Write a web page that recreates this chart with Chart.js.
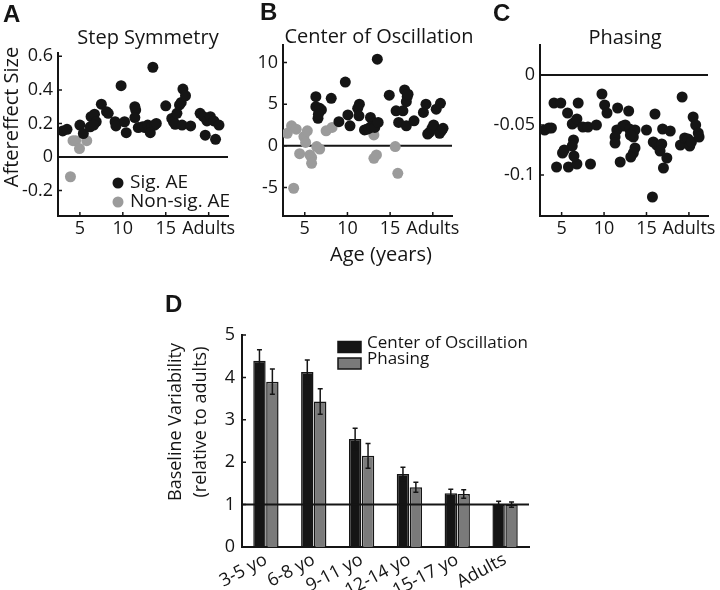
<!DOCTYPE html>
<html>
<head>
<meta charset="utf-8">
<script src="https://cdn.jsdelivr.net/npm/chart.js@4.4.1/dist/chart.umd.min.js"></script>
<style>
    body { margin: 0; background: #fff; }
    .figure { position: relative; width: 720px; height: 590px; }
    canvas { position: absolute; }
</style>
</head>
<body>
<div class="figure">
    <canvas id="stepChart" width="240" height="275" style="left:0px;top:0px"></canvas>
    <canvas id="centerChart" width="250" height="275" style="left:230px;top:0px"></canvas>
    <canvas id="phasingChart" width="250" height="275" style="left:470px;top:0px"></canvas>
    <canvas id="baselineChart" width="380" height="300" style="left:160px;top:290px"></canvas>
</div>
<script>
const ink = '#151515'
const grey = '#9b9b9b'
const barGrey = '#7a7a7a'

// shared age axis (A, B, C)
const ageTicks = [5, 10, 15, 20]
const ageTickLabels = ['5', '10', '15', 'Adults']
const ageMin = 2.45
const ageMax = 22.25

// A : step symmetry  [age, aftereffect]
const stepTicks = [-0.2, 0, 0.2, 0.4, 0.6]
const stepTickLabels = ['-0.2', '0', '0.2', '0.4', '0.6']
const stepSig = [
    [3.0, 0.155], [3.5, 0.165], [5.0, 0.19], [5.4, 0.14], [6.3, 0.24], [6.7, 0.255],
    [6.2, 0.18], [6.9, 0.21], [6.6, 0.19], [7.5, 0.315], [8.1, 0.27], [8.3, 0.26],
    [9.8, 0.425], [9.1, 0.21], [9.2, 0.185], [10.2, 0.21], [10.4, 0.145], [11.4, 0.3],
    [11.5, 0.28], [11.4, 0.235], [11.8, 0.175], [12.3, 0.18], [12.6, 0.175], [12.9, 0.19],
    [13.1, 0.16], [13.4, 0.185], [13.2, 0.145], [13.7, 0.19], [13.9, 0.2], [13.5, 0.535],
    [15.0, 0.305], [15.7, 0.23], [15.9, 0.21], [16.1, 0.195], [16.3, 0.26], [16.6, 0.31],
    [16.8, 0.325], [17.0, 0.405], [17.3, 0.365], [16.9, 0.19], [17.9, 0.185], [19.0, 0.26],
    [19.4, 0.24], [19.8, 0.215], [20.2, 0.24], [20.6, 0.215], [21.2, 0.19], [19.6, 0.13],
    [20.8, 0.105],
]
const stepNonSig = [[3.9, -0.118], [4.2, 0.097], [4.5, 0.097], [4.95, 0.05], [5.8, 0.097]]

// B : center of oscillation
const centerTicks = [-5, 0, 5, 10]
const centerTickLabels = ['-5', '0', '5', '10']
const centerSig = [
    [6.3, 5.9], [6.3, 4.7], [6.75, 4.5], [6.95, 4.3], [6.55, 3.3], [6.6, 3.8], [8.1, 5.7],
    [9.0, 2.9], [9.75, 7.65], [10.05, 3.7], [10.3, 2.4], [11.4, 5.0], [11.2, 4.5], [11.35, 3.6],
    [12.0, 1.9], [12.3, 2.0], [12.7, 3.4], [13.0, 2.7], [12.5, 2.1], [12.8, 2.3], [13.2, 2.2],
    [13.6, 2.8], [13.5, 10.4], [14.9, 6.07], [15.7, 4.2], [16.5, 4.2], [16.0, 2.8], [16.9, 2.4],
    [17.8, 3.0], [16.7, 6.7], [17.0, 5.9], [16.9, 5.3], [17.1, 6.2], [18.9, 4.0], [19.2, 5.0],
    [20.4, 4.4], [20.9, 5.1], [19.6, 1.6], [19.4, 1.4], [19.9, 2.1], [20.1, 2.5], [21.0, 1.8],
    [20.8, 1.5], [21.2, 2.1],
]
const centerNonSig = [
    [2.95, 1.5], [3.45, 2.4], [4.0, 2.0], [3.7, -5.1], [4.4, -0.95], [4.9, 1.1], [5.1, 0.4],
    [5.3, 1.8], [5.6, -1.1], [5.8, -1.4], [5.8, -2.1], [6.4, -0.1], [6.75, -0.4], [7.5, 1.8],
    [8.2, 2.2], [13.1, 1.3], [13.4, -1.1], [13.1, -1.5], [15.6, -0.1], [15.9, -3.3],
]

// C : phasing
const phasingTicks = [-0.1, -0.05, 0]
const phasingTickLabels = ['-0.1', '-0.05', '0']
const phasingSig = [
    [3.0, -0.055], [3.5, -0.053], [3.8, -0.053], [4.1, -0.028], [4.9, -0.028], [4.4, -0.092],
    [5.7, -0.038], [5.1, -0.078], [5.3, -0.075], [5.8, -0.092], [6.4, -0.065], [6.25, -0.071],
    [6.25, -0.049], [6.55, -0.047], [6.8, -0.044], [6.95, -0.028], [6.8, -0.089], [6.45, -0.081],
    [7.5, -0.052], [8.1, -0.052], [9.1, -0.05], [8.4, -0.089], [9.75, -0.019], [10.07, -0.03],
    [10.35, -0.038], [11.6, -0.033], [11.5, -0.055], [11.3, -0.062], [11.3, -0.068], [11.9, -0.087],
    [12.2, -0.051], [12.9, -0.036], [12.5, -0.05], [13.0, -0.054], [13.3, -0.058], [13.65, -0.055],
    [13.45, -0.062], [13.1, -0.06], [13.65, -0.073], [13.45, -0.078], [13.15, -0.082], [15.0, -0.055],
    [16.0, -0.039], [15.8, -0.067], [16.2, -0.07], [16.6, -0.071], [16.8, -0.069], [16.6, -0.076],
    [16.9, -0.054], [17.8, -0.056], [17.4, -0.083], [17.0, -0.093], [15.7, -0.122], [19.2, -0.022],
    [19.0, -0.07], [19.5, -0.063], [19.9, -0.064], [20.1, -0.071], [20.3, -0.067], [20.5, -0.042],
    [20.8, -0.05], [21.1, -0.058], [21.2, -0.062],
]

// D : baseline variability
const groups = ['3-5 yo', '6-8 yo', '9-11 yo', '12-14 yo', '15-17 yo', 'Adults']
const baseTicks = [0, 1, 2, 3, 4, 5]
const baseTickLabels = ['0', '1', '2', '3', '4', '5']
const centerVar = [4.39, 4.13, 2.55, 1.72, 1.27, 1.0]
const centerVarErr = [0.26, 0.28, 0.25, 0.16, 0.09, 0.08]
const phasingVar = [3.9, 3.43, 2.15, 1.41, 1.25, 1.0]
const phasingVarErr = [0.3, 0.3, 0.29, 0.12, 0.1, 0.06]

Chart.defaults.font.family = "'Open Sans', sans-serif"
Chart.defaults.font.size = 18
Chart.defaults.color = ink
Chart.defaults.animation = false

const toPoints = (pairs) => pairs.map(([x, y]) => ({ x, y }))

// plugins

const drawRef = (chart, value) => {
    const { ctx, chartArea } = chart
    const y = chart.scales.y.getPixelForValue(value)
    ctx.save()
    ctx.strokeStyle = ink
    ctx.lineWidth = 2
    ctx.beginPath()
    ctx.moveTo(chartArea.left, y)
    ctx.lineTo(chartArea.right, y)
    ctx.stroke()
    ctx.restore()
}

const refLine = {
    id: 'refLine',
    beforeDatasetsDraw(chart, args, opts) {
        if (!opts.onTop) drawRef(chart, opts.value)
    },
    afterDatasetsDraw(chart, args, opts) {
        if (opts.onTop) drawRef(chart, opts.value)
    },
}

const innerTicks = {
    id: 'innerTicks',
    afterDraw(chart, args, opts) {
        const { ctx, chartArea } = chart
        ctx.save()
        ctx.strokeStyle = ink
        ctx.lineWidth = 1.5
        ctx.beginPath()
        if (opts.x) {
            chart.scales.x.ticks.forEach((t) => {
                const px = chart.scales.x.getPixelForValue(t.value)
                ctx.moveTo(px, chartArea.bottom)
                ctx.lineTo(px, chartArea.bottom - 4)
            })
        }
        chart.scales.y.ticks.forEach((t) => {
            const py = chart.scales.y.getPixelForValue(t.value)
            ctx.moveTo(chartArea.left, py)
            ctx.lineTo(chartArea.left + 4, py)
        })
        ctx.stroke()
        ctx.restore()
    },
}

const errorBars = {
    id: 'errorBars',
    afterDatasetsDraw(chart) {
        const { ctx } = chart
        const yScale = chart.scales.y
        ctx.save()
        ctx.strokeStyle = ink
        ctx.lineWidth = 1.5
        chart.data.datasets.forEach((ds, i) => {
            if (!ds.errors) return
            chart.getDatasetMeta(i).data.forEach((bar, j) => {
                const top = yScale.getPixelForValue(ds.data[j] + ds.errors[j])
                const bottom = yScale.getPixelForValue(ds.data[j] - ds.errors[j])
                ctx.beginPath()
                ctx.moveTo(bar.x, top)
                ctx.lineTo(bar.x, bottom)
                ctx.moveTo(bar.x - 2.5, top)
                ctx.lineTo(bar.x + 2.5, top)
                ctx.moveTo(bar.x - 2.5, bottom)
                ctx.lineTo(bar.x + 2.5, bottom)
                ctx.stroke()
            })
        })
        ctx.restore()
    },
}

const innerLegend = {
    id: 'innerLegend',
    afterDraw(chart, args, opts) {
        if (!opts.display) return
        const { ctx, chartArea } = chart
        chart.data.datasets.forEach((ds, i) => {
            const cx = chartArea.left + opts.x
            const cy = chartArea.top + opts.y + i * opts.dy
            ctx.save()
            ctx.fillStyle = ds.backgroundColor
            if (opts.marker === 'dot') {
                ctx.beginPath()
                ctx.arc(cx, cy, 5.5, 0, Math.PI * 2)
                ctx.fill()
            } else {
                ctx.fillRect(cx, cy - 5.5, 23, 11)
                ctx.strokeStyle = ink
                ctx.lineWidth = 1.5
                ctx.strokeRect(cx, cy - 5.5, 23, 11)
            }
            ctx.fillStyle = ink
            ctx.font = opts.font
            ctx.textAlign = 'left'
            ctx.textBaseline = 'middle'
            ctx.fillText(ds.label, cx + opts.textGap, cy + (opts.textDy || 0))
            ctx.restore()
        })
    },
}

// panel letters, titles and axis titles
const panelText = {
    id: 'panelText',
    afterDraw(chart, args, opts) {
        const { ctx } = chart
        ;(opts.items || []).forEach((it) => {
            ctx.save()
            ctx.font = it.font
            ctx.fillStyle = ink
            ctx.textAlign = it.align || 'center'
            ctx.textBaseline = 'alphabetic'
            ctx.translate(it.x, it.y)
            if (it.rotate) ctx.rotate(-Math.PI / 2)
            ctx.fillText(it.text, 0, 0)
            ctx.restore()
        })
    },
}

const letterFont = "bold 24px 'Liberation Sans', Arial, sans-serif"
const titleFont = "20px 'Open Sans', sans-serif"

const fixedAxis = (values, labels, extra) => ({
    grid: { display: false, drawTicks: false },
    border: { color: ink, width: 2 },
    afterBuildTicks: (scale) => {
        scale.ticks = values.map((v) => ({ value: v }))
    },
    ...extra,
    ticks: { autoSkip: false, callback: (v, i) => labels[i], ...(extra.ticks || {}) },
})

const makeScatter = (canvasId, cfg) =>
    new Chart(document.getElementById(canvasId), {
        type: 'scatter',
        data: {
            datasets: [
                { label: 'Sig. AE', data: toPoints(cfg.sig), backgroundColor: ink, pointRadius: 5.5, borderWidth: 0 },
                { label: 'Non-sig. AE', data: toPoints(cfg.nonSig || []), backgroundColor: grey, pointRadius: 5.5, borderWidth: 0 },
            ],
        },
        options: {
            responsive: false,
            events: [],
            layout: { padding: cfg.padding },
            plugins: {
                legend: { display: false },
                tooltip: { enabled: false },
                refLine: { value: 0 },
                innerTicks: { x: true },
                innerLegend: cfg.legend || { display: false },
                panelText: { items: cfg.texts },
            },
            scales: {
                x: fixedAxis(ageTicks, ageTickLabels, {
                    type: 'linear',
                    min: ageMin,
                    max: ageMax,
                    ticks: { padding: 2, maxRotation: 0 },
                    afterFit: (s) => {
                        s.height = cfg.xHeight
                        s.paddingLeft = 0
                        s.paddingRight = 0
                    },
                }),
                y: fixedAxis(cfg.yTicks, cfg.yTickLabels, {
                    min: cfg.yMin,
                    max: cfg.yMax,
                    ticks: { padding: 5 },
                    afterFit: (s) => {
                        s.width = cfg.yWidth
                        s.paddingTop = 0
                        s.paddingBottom = 0
                    },
                }),
            },
        },
        plugins: [refLine, innerTicks, innerLegend, panelText],
    })

// A
makeScatter('stepChart', {
    sig: stepSig,
    nonSig: stepNonSig,
    yTicks: stepTicks,
    yTickLabels: stepTickLabels,
    yMin: -0.352,
    yMax: 0.62,
    yWidth: 58,
    xHeight: 59,
    padding: { top: 53, right: 12, left: 0, bottom: 0 },
    legend: { display: true, marker: 'dot', x: 60, y: 130, dy: 19, textGap: 12, font: "19px 'Open Sans', sans-serif" },
    texts: [
        { text: 'A', x: 3, y: 22, font: letterFont, align: 'left' },
        { text: 'Step Symmetry', x: 148, y: 44, font: titleFont },
        { text: 'Aftereffect Size', x: 18, y: 117, font: titleFont, rotate: true },
    ],
})

// B
makeScatter('centerChart', {
    sig: centerSig,
    nonSig: centerNonSig,
    yTicks: centerTicks,
    yTickLabels: centerTickLabels,
    yMin: -8.43,
    yMax: 12.1,
    yWidth: 53,
    xHeight: 59,
    padding: { top: 45, right: 28, left: 0, bottom: 0 },
    texts: [
        { text: 'B', x: 30, y: 20, font: letterFont, align: 'left' },
        { text: 'Center of Oscillation', x: 149, y: 43, font: titleFont },
        { text: 'Age (years)', x: 151, y: 261, font: titleFont },
    ],
})

// C
makeScatter('phasingChart', {
    sig: phasingSig,
    yTicks: phasingTicks,
    yTickLabels: phasingTickLabels,
    yMin: -0.141,
    yMax: 0.03,
    yWidth: 70,
    xHeight: 59,
    padding: { top: 45, right: 12, left: 0, bottom: 0 },
    texts: [
        { text: 'C', x: 23, y: 21, font: letterFont, align: 'left' },
        { text: 'Phasing', x: 155, y: 44, font: titleFont },
    ],
})

// D
new Chart(document.getElementById('baselineChart'), {
    type: 'bar',
    data: {
        labels: groups,
        datasets: [
            {
                label: 'Center of Oscillation',
                data: centerVar,
                errors: centerVarErr,
                backgroundColor: ink,
                borderColor: ink,
                borderWidth: 1.5,
                categoryPercentage: 0.54,
                barPercentage: 0.96,
            },
            {
                label: 'Phasing',
                data: phasingVar,
                errors: phasingVarErr,
                backgroundColor: barGrey,
                borderColor: ink,
                borderWidth: 1.5,
                categoryPercentage: 0.54,
                barPercentage: 0.96,
            },
        ],
    },
    options: {
        responsive: false,
        events: [],
        layout: { padding: { top: 45, right: 11, left: 0, bottom: 0 } },
        plugins: {
            legend: { display: false },
            tooltip: { enabled: false },
            refLine: { value: 1, onTop: true },
            innerTicks: { x: false },
            innerLegend: { display: true, marker: 'box', x: 96, y: 12, dy: 16.5, textGap: 29, textDy: -4, font: "17px 'Open Sans', sans-serif" },
            panelText: {
                items: [
                    { text: 'D', x: 5, y: 22, font: letterFont, align: 'left' },
                    { text: 'Baseline Variability', x: 21, y: 132, font: "18px 'Open Sans', sans-serif", rotate: true },
                    { text: '(relative to adults)', x: 46, y: 132, font: "18px 'Open Sans', sans-serif", rotate: true },
                ],
            },
        },
        scales: {
            x: {
                grid: { display: false, drawTicks: false },
                border: { color: ink, width: 2 },
                ticks: { padding: 2, minRotation: 28, maxRotation: 28, autoSkip: false },
                afterFit: (s) => {
                    s.height = 43
                    s.paddingLeft = 0
                    s.paddingRight = 0
                },
            },
            y: fixedAxis(baseTicks, baseTickLabels, {
                min: 0,
                max: 5,
                ticks: { padding: 7 },
                afterFit: (s) => {
                    s.width = 82
                    s.paddingTop = 0
                    s.paddingBottom = 0
                },
            }),
        },
    },
    plugins: [refLine, errorBars, innerTicks, innerLegend, panelText],
})
</script>
</body>
</html>
